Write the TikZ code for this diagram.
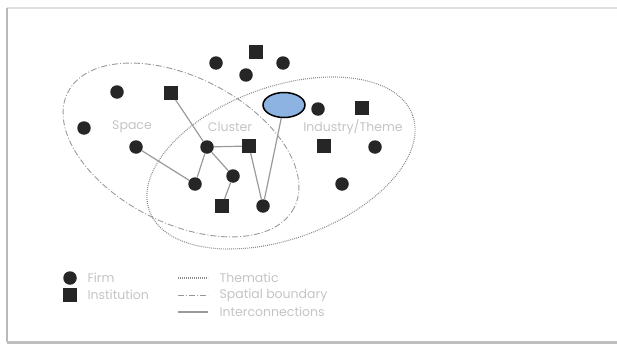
\documentclass[tikz,border=0pt]{standalone}
\usepackage{fontspec}
\setmainfont{Poppins}
\usetikzlibrary{shapes.geometric}
\definecolor{labelGray}{HTML}{C4C4C4}
\definecolor{linkGray}{HTML}{9A9A9A}
\definecolor{blobBlue}{HTML}{8DB3E2}

\begin{document}
\begin{tikzpicture}[x=1pt, y=-1pt,
    firm/.style={circle, fill=black!85, inner sep=0pt, minimum size=13.5pt},
    inst/.style={rectangle, fill=black!85, inner sep=0pt, minimum size=13.5pt},
    link/.style={linkGray, line width=1.2pt},
    lbl/.style={labelGray, font=\fontsize{12.5}{14}\selectfont},
    spatial/.style={gray!80, line width=0.9pt, dash pattern=on 6pt off 2pt on 1pt off 2pt},
    thematic/.style={gray!90, line width=1.1pt, dash pattern=on 0.9pt off 1.1pt}]

    \useasboundingbox (0,0) rectangle (617,345);

    % frame with shadow
    \draw[gray!25, line width=1.5pt] (7,8) -- (617,8);
    \draw[gray!55, line width=2pt] (7,8) -- (7,342);
    \draw[gray!50, line width=3pt] (7,342) -- (617,342);

    % boundaries
    \draw[spatial, rotate around={-27:(181,150)}] (181,150) ellipse [x radius=127, y radius=73];
    \draw[thematic, rotate around={20:(281,163)}] (281,163) ellipse [x radius=140, y radius=76];

    % labels
    \node[lbl] (space) at (132,127) {Space};
    \node[lbl] (cluster) at (230,127) {Cluster};
    \node[lbl] (industry) at (353,127) {Industry/Theme};

    % firms and institutions
    \foreach \n/\x/\y in {ftopa/216/63, ftopb/246/75, ftopc/283/63, fa/117/92, fb/84/128,
        fc/318/109, fd/136/147, fe/207/147, ff/375/147, fg/195/184, fh/233/176,
        fi/342/184, fj/263/206}
        \node[firm] (\n) at (\x,\y) {};
    \foreach \n/\x/\y in {itop/256/52, ia/171/93, ib/362/108, ic/249/146, id/324/146,
        ie/222/206}
        \node[inst] (\n) at (\x,\y) {};

    \node[ellipse, draw=black, line width=1.5pt, fill=blobBlue, inner sep=0pt,
        minimum width=42pt, minimum height=25pt] (blob) at (284,105) {};

    % interconnections
    \foreach \a/\b in {ia/fe, fd/fg, fe/ic, fe/fg, fe/fh, fh/ie, ic/fj, blob/fj}
        \draw[link] (\a) -- (\b);

    % legend
    \node[firm] (kfirm) at (70,278) {};
    \node[inst] (kinst) at (70,295) {};
    \node[lbl, anchor=west] (tfirm) at (84,278) {Firm};
    \node[lbl, anchor=west] (tinst) at (84,295) {Institution};

    \coordinate (tha) at (178,278);
    \coordinate (thb) at (208,278);
    \coordinate (spa) at (178,295);
    \coordinate (spb) at (208,295);
    \coordinate (ina) at (178,312);
    \coordinate (inb) at (208,312);
    \draw[thematic] (tha) -- (thb);
    \draw[spatial] (spa) -- (spb);
    \draw[link] (ina) -- (inb);
    \node[lbl, anchor=west] (tthem) at (216,278) {Thematic};
    \node[lbl, anchor=west] (tspat) at (216,295) {Spatial boundary};
    \node[lbl, anchor=west] (tinter) at (216,312) {Interconnections};

\end{tikzpicture}
\end{document}
